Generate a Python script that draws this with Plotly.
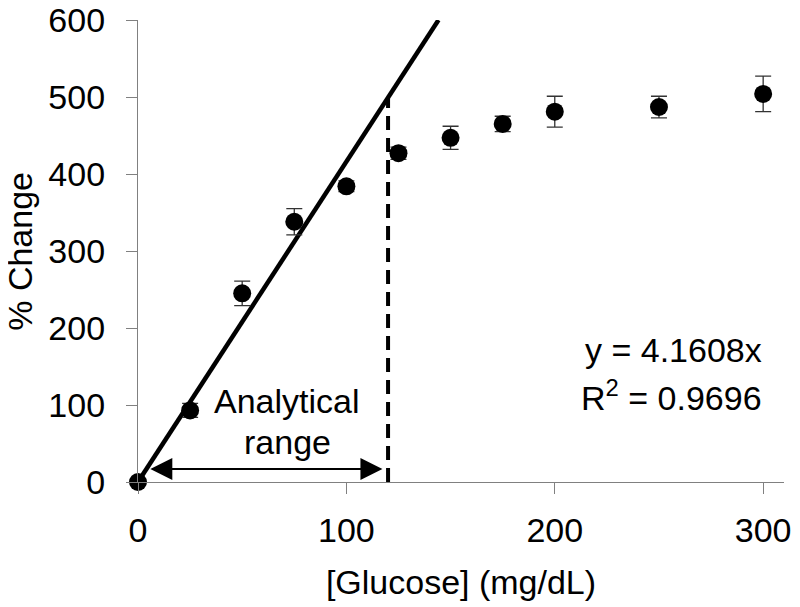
import plotly.graph_objects as go

# Data
glucose = [0, 25, 50, 75, 100, 125, 150, 175, 200, 250, 300]
pct_change = [0, 93, 245, 338, 384, 427, 447, 465, 481, 487, 504]
err = [3, 9, 16, 17, 7, 8, 15, 10, 20, 14, 23]
slope = 4.1608
r2 = 0.9696
range_low = 0
range_high = 120
x_ticks = [0, 100, 200, 300]
y_ticks = [0, 100, 200, 300, 400, 500, 600]

FONT = "Liberation Sans, Arial, sans-serif"
FS = 34

fig = go.Figure()

# fitted line (clipped at top of axis)
x_end = 600 / slope
fig.add_trace(go.Scatter(x=[0, x_end], y=[0, slope * x_end], mode="lines",
                         line=dict(color="black", width=4.5), hoverinfo="skip"))

# dashed vertical line at the upper limit of the analytical range
fig.add_trace(go.Scatter(x=[range_high, range_high], y=[0, slope * range_high], mode="lines",
                         line=dict(color="black", width=4, dash="14px,8px"), hoverinfo="skip"))

# data points with error bars
fig.add_trace(go.Scatter(x=glucose, y=pct_change, mode="markers",
                         marker=dict(color="black", size=18),
                         error_y=dict(type="data", array=err, color="#333333", thickness=1.3, width=8),
                         cliponaxis=False))

annotations = [
    # double-headed arrow for analytical range
    dict(x=range_high - 2.7, y=17, ax=range_low + 2.5 + 2.7, ay=17, xref="x", yref="y", axref="x", ayref="y",
         text="", showarrow=True, arrowhead=2, arrowside="end+start", startarrowhead=2,
         arrowsize=2.2, startarrowsize=2.2, arrowwidth=2, arrowcolor="black", standoff=0, startstandoff=0),
    dict(x=71.6, y=105, xref="x", yref="y", text="Analytical", showarrow=False,
         font=dict(size=FS, color="black", family=FONT)),
    dict(x=71.6, y=52, xref="x", yref="y", text="range", showarrow=False,
         font=dict(size=FS, color="black", family=FONT)),
    dict(x=300.5, y=171, xref="x", yref="y", text="y = 4.1608x", showarrow=False, xanchor="right",
         font=dict(size=FS, color="black", family=FONT)),
    dict(x=300.5, y=112, xref="x", yref="y", text="R<sup>2</sup> = 0.9696", showarrow=False, xanchor="right",
         font=dict(size=FS, color="black", family=FONT)),
    # y-axis title
    dict(x=-0.183, y=0.5, xref="paper", yref="paper", text="% Change", showarrow=False, textangle=-90,
         xanchor="center", yanchor="middle", font=dict(size=FS, color="black", family=FONT)),
]

fig.update_layout(
    width=800, height=607,
    margin=dict(l=130, r=24, t=12, b=133, autoexpand=False),
    paper_bgcolor="white", plot_bgcolor="white",
    showlegend=False,
    font=dict(family=FONT, size=FS, color="black"),
    annotations=annotations,
    xaxis=dict(range=[0, 310], tickvals=x_ticks, showline=True, linecolor="#808080", linewidth=1.3,
               ticks="outside", ticklen=11, tickcolor="#808080", tickwidth=1.3, automargin=False,
               showgrid=False, zeroline=False, ticklabelstandoff=7, ticklabeloverflow="allow",
               title=dict(text="[Glucose] (mg/dL)", standoff=22, font=dict(size=FS))),
    yaxis=dict(range=[0, 600], tickvals=y_ticks, showline=True, linecolor="#808080", linewidth=1.3,
               ticks="outside", ticklen=11, tickcolor="#808080", tickwidth=1.3, automargin=False,
               showgrid=False, zeroline=False, ticklabelstandoff=14, ticklabeloverflow="allow"),
)

fig.write_html("out.html")
